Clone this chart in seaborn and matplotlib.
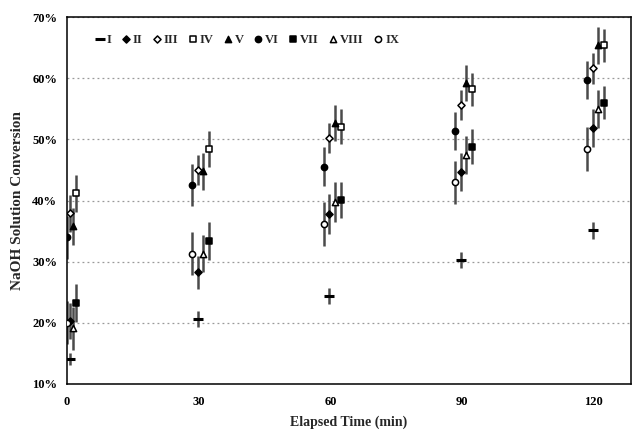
import matplotlib
matplotlib.use("Agg")
import matplotlib.pyplot as plt
import seaborn as sns
import pandas as pd
from matplotlib.ticker import FuncFormatter, MultipleLocator

series = ["I", "II", "III", "IV", "V", "VI", "VII", "VIII", "IX"]

t_a = [0.0, 28.5, 58.6, 88.3, 118.5]
t_b = [0.7, 29.8, 59.8, 89.7, 119.8]
t_c = [1.3, 31.0, 61.1, 91.0, 121.1]
t_d = [2.1, 32.3, 62.4, 92.3, 122.4]

times = {"I": t_b, "II": t_b, "III": t_b, "IV": t_d, "V": t_c,
         "VI": t_a, "VII": t_d, "VIII": t_c, "IX": t_a}

vals = {
    "I":    [14.1, 20.6, 24.4, 30.3, 35.1],
    "II":   [20.3, 28.3, 37.8, 44.6, 51.9],
    "III":  [37.9, 45.0, 50.2, 55.6, 61.6],
    "IV":   [41.2, 48.4, 52.1, 58.2, 65.4],
    "V":    [35.8, 44.8, 52.7, 59.2, 65.4],
    "VI":   [34.0, 42.5, 45.5, 51.4, 59.7],
    "VII":  [23.2, 33.4, 40.1, 48.8, 56.0],
    "VIII": [19.1, 31.3, 39.8, 47.4, 54.9],
    "IX":   [20.0, 31.3, 36.2, 43.0, 48.4],
}
errs = {
    "I":    [1.0, 1.3, 1.3, 1.3, 1.4],
    "II":   [3.0, 2.7, 3.3, 3.1, 3.1],
    "III":  [3.0, 2.5, 2.5, 2.5, 2.5],
    "IV":   [3.0, 2.9, 2.8, 2.7, 2.7],
    "V":    [3.0, 3.0, 2.9, 2.9, 3.0],
    "VI":   [3.5, 3.4, 3.2, 3.1, 3.1],
    "VII":  [3.1, 3.1, 2.9, 2.9, 2.7],
    "VIII": [3.5, 3.0, 3.3, 3.1, 3.1],
    "IX":   [3.5, 3.5, 3.6, 3.5, 3.6],
}

markers = {"I": "_", "II": "D", "III": "D", "IV": "s", "V": "^",
           "VI": "o", "VII": "s", "VIII": "^", "IX": "o"}
faces = {"I": "black", "II": "black", "III": "white", "IV": "white", "V": "black",
         "VI": "black", "VII": "black", "VIII": "white", "IX": "white"}
sizes = {"I": 55, "II": 13, "III": 13, "IV": 18, "V": 20,
         "VI": 20, "VII": 18, "VIII": 20, "IX": 20}

sns.set_style("white")
plt.rcParams['font.family'] = ['Liberation Serif', 'DejaVu Serif']
plt.rcParams['font.weight'] = 'bold'

fig = plt.figure(figsize=(6.33, 4.37), dpi=100)
ax = fig.add_axes([0.1058, 0.1213, 0.891, 0.8397])

for s in series:
    df = pd.DataFrame({"t": times[s], "v": vals[s], "e": errs[s]})
    ax.errorbar(df["t"], df["v"], yerr=df["e"], fmt="none", ecolor="#4a4a4a",
                elinewidth=1.8, capsize=0, zorder=2)
    if markers[s] == "_":
        sns.scatterplot(data=df, x="t", y="v", marker="_", color="black",
                        s=sizes[s], linewidth=2.2, ax=ax, label=s, zorder=3)
    else:
        sns.scatterplot(data=df, x="t", y="v", marker=markers[s], color=faces[s],
                        edgecolor="black", linewidth=1.1, s=sizes[s], ax=ax,
                        label=s, zorder=3)

ax.set_xlim(0, 128.5)
ax.set_ylim(10, 70)
ax.xaxis.set_major_locator(MultipleLocator(30))
ax.yaxis.set_major_locator(MultipleLocator(10))
ax.yaxis.set_major_formatter(FuncFormatter(lambda v, p: f"{v:.0f}%"))
ax.grid(axis="y", linestyle=(0, (1.5, 2.5)), color="#999999", linewidth=0.9)
ax.set_axisbelow(True)
for sp in ax.spines.values():
    sp.set_color("black")
    sp.set_linewidth(1.1)
ax.tick_params(axis="both", direction="out", length=3, width=0.8,
               labelsize=9, colors="black", pad=4)
ax.tick_params(axis="x", pad=6)
for lab in ax.get_xticklabels() + ax.get_yticklabels():
    lab.set_fontweight("bold")

ax.set_xlabel("Elapsed Time (min)", fontsize=10, fontweight="bold", labelpad=5)
ax.set_ylabel("NaOH Solution Conversion", fontsize=11, fontweight="bold", labelpad=6)

leg = ax.legend(loc="upper left", bbox_to_anchor=(0.035, 0.975), ncol=9, frameon=False,
                fontsize=9, handletextpad=0.1, columnspacing=0.7, handlelength=0.9,
                borderaxespad=0.2)
for t in leg.get_texts():
    t.set_fontweight("bold")

fig.savefig("out.png", dpi=100)
